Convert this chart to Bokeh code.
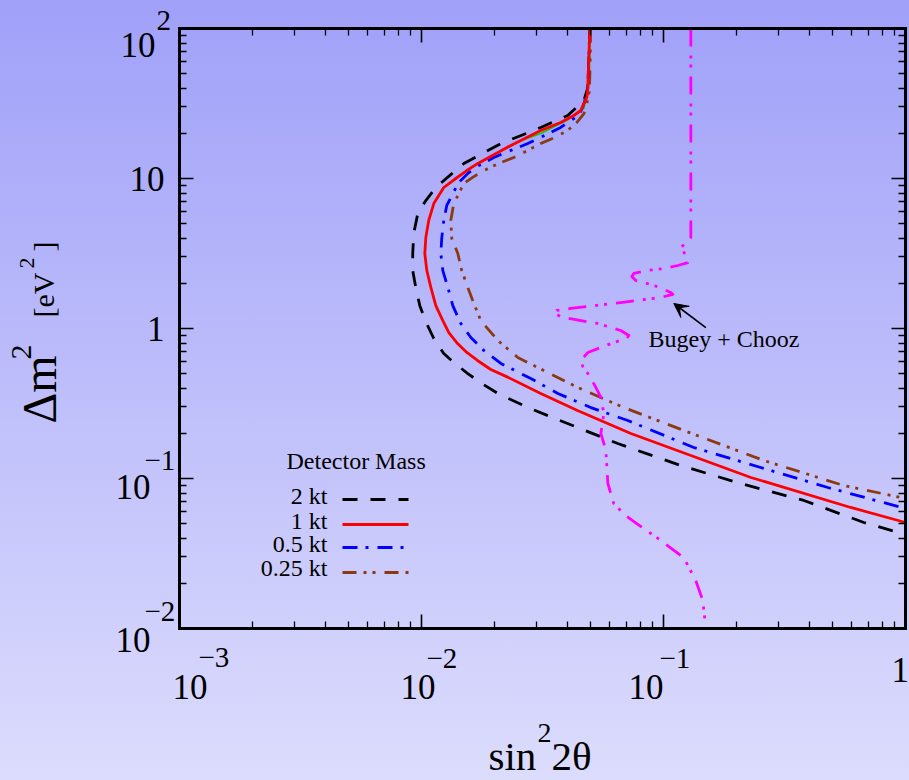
import math
from bokeh.plotting import figure
from bokeh.models import (Range1d, LogAxis, FixedTicker, Label, Arrow, VeeHead,
                          CustomJSTickFormatter)
from bokeh.embed import file_html
from bokeh.resources import INLINE

# ---------------- data ----------------
# 2 kt (black dashed)
x_2kt = [0.0496, 0.0491, 0.0486, 0.0469, 0.0402, 0.0311, 0.0291, 0.02128, 0.01496, 0.0131,
         0.01146, 0.01042, 0.00965, 0.00929, 0.0092, 0.0092, 0.00947, 0.00984, 0.01042,
         0.01124, 0.01236, 0.01373, 0.01553, 0.01774, 0.02067, 0.0275, 0.0366,
         0.0647, 0.1179, 0.2085, 0.380, 0.673, 1.0]
y_2kt = [100, 61, 40, 33.1, 26.3, 21.9, 20.9, 17.1, 12.6, 10.5,
         8.71, 7.13, 5.84, 4.30, 3.16, 2.43, 1.88, 1.42, 1.11,
         0.858, 0.681, 0.585, 0.501, 0.43, 0.369, 0.297, 0.247,
         0.171, 0.122, 0.0926, 0.0714, 0.0509, 0.0423]

# 1 kt (red solid)
x_1kt = [0.0496, 0.0491, 0.0486, 0.0482, 0.0469, 0.0455, 0.0426, 0.0376, 0.0311, 0.0234,
         0.0171, 0.01539, 0.01386, 0.01236, 0.01124, 0.01071, 0.01042, 0.01032, 0.01052,
         0.01093, 0.01146, 0.01225, 0.01297, 0.01409, 0.01539, 0.01703, 0.01934,
         0.0227, 0.0311, 0.0441, 0.0733, 0.2297, 0.594, 1.0]
y_1kt = [100, 61, 38.6, 34.7, 31.6, 28.4, 26.3, 23.6, 20.9, 16.6,
         12.6, 11.3, 10.0, 8.71, 6.81, 5.25, 4.04, 3.16, 2.43,
         1.88, 1.42, 1.13, 0.94, 0.794, 0.692, 0.612, 0.533,
         0.474, 0.369, 0.284, 0.1995, 0.1016, 0.0641, 0.0509]

# 0.5 kt (blue dash-dot)
x_05kt = [0.0496, 0.0491, 0.0486, 0.0469, 0.0455, 0.0426, 0.0376, 0.0275, 0.0234, 0.0199,
          0.01725, 0.01553, 0.01426, 0.01347, 0.01272, 0.01236, 0.01213, 0.01202, 0.01225,
          0.01285, 0.01347, 0.01454, 0.01599, 0.01809, 0.02128, 0.0283, 0.0366,
          0.0501, 0.0712, 0.1334, 0.252, 0.4775, 1.0]
y_05kt = [100, 61, 38.6, 31.6, 28.0, 25.1, 21.9, 17.1, 15.4, 13.8,
          12.2, 10.8, 9.4, 7.94, 6.61, 5.25, 4.04, 3.16, 2.43,
          1.88, 1.42, 1.08, 0.871, 0.714, 0.585, 0.464, 0.369,
          0.297, 0.2435, 0.161, 0.1184, 0.0871, 0.0631]

# 0.25 kt (brown dash-dot-dot)
x_025kt = [0.0500, 0.0498, 0.0494, 0.0486, 0.0482, 0.0469, 0.0438, 0.0402, 0.0356, 0.0311,
           0.0275, 0.02406, 0.02087, 0.01809, 0.01645, 0.01496, 0.0136, 0.01321, 0.01334,
           0.01413, 0.01467, 0.01553, 0.01645, 0.01758, 0.02067, 0.025, 0.032, 0.0443,
           0.0686, 0.1213, 0.2597, 0.556, 1.0]
y_025kt = [100, 61, 38, 34.7, 30.7, 27.1, 23.6, 20.9, 18.8, 17.1,
           15.4, 13.8, 12.6, 11.3, 10.3, 9.26, 6.81, 5.25, 3.98,
           3.16, 2.43, 1.88, 1.47, 1.13, 0.832, 0.641, 0.525, 0.404,
           0.297, 0.209, 0.1318, 0.0898, 0.0736]

# extra thin green curve (mostly hidden under the others)
x_green = [0.0498, 0.0494, 0.0469, 0.0400, 0.0311, 0.0260]
y_green = [100, 45, 29.3, 24.5, 19.95, 18.0]

# Bugey + Chooz limit (magenta)
x_bc = [0.1297, 0.1297, 0.1248, 0.1179, 0.1237, 0.126, 0.1146, 0.1003, 0.0845, 0.0754,
        0.0740, 0.0768, 0.0912, 0.1072, 0.1093, 0.0975, 0.0666, 0.0414, 0.0362, 0.0356,
        0.0376, 0.0402, 0.0535, 0.0666, 0.0719, 0.0705, 0.0623, 0.0487, 0.0455, 0.0464,
        0.0487, 0.0520, 0.0551, 0.0567, 0.0551, 0.0578, 0.0583, 0.0589, 0.0623, 0.0696,
        0.0775, 0.0975, 0.1213, 0.1359, 0.1453, 0.1496]
y_bc = [100, 4.04, 3.74, 3.47, 3.07, 2.75, 2.63, 2.51, 2.43, 2.33,
        2.22, 2.09, 1.94, 1.74, 1.69, 1.61, 1.49, 1.36, 1.32, 1.26,
        1.20, 1.17, 1.08, 0.97, 0.898, 0.858, 0.807, 0.692, 0.612, 0.558,
        0.501, 0.417, 0.347, 0.271, 0.1995, 0.154, 0.122, 0.0926, 0.0681, 0.0567,
        0.0501, 0.0386, 0.0297, 0.0209, 0.0154, 0.01]

# annotation arrow (tail -> head)
arrow_x = [0.1496, 0.1103]
arrow_y = [1.015, 1.468]

x_ticks = [1e-3, 1e-2, 1e-1, 1.0]
y_ticks = [1e-2, 1e-1, 1.0, 10.0, 100.0]
legend_labels = ["2 kt", "1 kt", "0.5 kt", "0.25 kt"]

# ---------------- layout / style ----------------
W, H = 909, 780
FL, FR, FT, FB = 179, 905, 28, 628     # plot box edges in pixels
BOX_X = (x_ticks[0], x_ticks[-1])
BOX_Y = (y_ticks[0], y_ticks[-1])
DX = (FR - FL) / (math.log10(BOX_X[1]) - math.log10(BOX_X[0]))   # px per decade
DY = (FB - FT) / (math.log10(BOX_Y[1]) - math.log10(BOX_Y[0]))
x_range = Range1d(10 ** (math.log10(BOX_X[0]) - FL / DX), 10 ** (math.log10(BOX_X[1]) + (W - FR) / DX))
y_range = Range1d(10 ** (math.log10(BOX_Y[0]) - (H - FB) / DY), 10 ** (math.log10(BOX_Y[1]) + FT / DY))
FONT = "Liberation Serif"
BL = 0.40   # empirical baseline correction (fraction of font size)

p = figure(width=W, height=H, x_axis_type="log", y_axis_type="log",
           x_range=x_range, y_range=y_range,
           output_backend="svg", toolbar_location=None,
           min_border=0, min_border_left=0, min_border_right=0,
           min_border_top=0, min_border_bottom=0,
           background_fill_color=None, border_fill_color=None,
           outline_line_color=None)
p.styles = {"background": "linear-gradient(180deg, #a0a0f9 0%, #dcdcfd 100%)"}
p.grid.visible = False

def minor_for(ticks):
    out = []
    for t in ticks[:-1]:
        out += [m * t for m in range(2, 10)]
    return out

p.add_layout(LogAxis(), "above")
p.add_layout(LogAxis(), "right")
p.below[0].fixed_location = BOX_Y[0]
p.above[0].fixed_location = BOX_Y[1]
p.left[0].fixed_location = BOX_X[0]
p.right[0].fixed_location = BOX_X[1]
for ax in p.xaxis:
    ax.ticker = FixedTicker(ticks=x_ticks, minor_ticks=minor_for(x_ticks))
    ax.bounds = BOX_X
for ax in p.yaxis:
    ax.ticker = FixedTicker(ticks=y_ticks, minor_ticks=minor_for(y_ticks))
    ax.bounds = BOX_Y
for ax in list(p.xaxis) + list(p.yaxis):
    ax.formatter = CustomJSTickFormatter(code="return ''")
    ax.major_label_text_font_size = "0px"
    ax.major_label_standoff = 0
    ax.axis_label_standoff = 0
    ax.axis_line_color = "black"
    ax.axis_line_width = 3
    ax.axis_line_cap = "square"
    ax.major_tick_in = 14
    ax.major_tick_out = 0
    ax.minor_tick_in = 7
    ax.minor_tick_out = 0
    ax.major_tick_line_color = "black"
    ax.minor_tick_line_color = "black"
    ax.major_tick_line_width = 1.6
    ax.minor_tick_line_width = 1.3

# ---------------- curves ----------------
common = dict(line_join="round")
p.line(x_green, y_green, line_color="#00d000", line_width=1.5, **common)
p.line(x_2kt, y_2kt, line_color="black", line_width=2.8, line_dash="15 13", **common)
p.line(x_025kt, y_025kt, line_color="#8b3a0f", line_width=2.8, line_dash="14 7 3 6 3 9", **common)
p.line(x_05kt, y_05kt, line_color="#0000ff", line_width=2.8, line_dash="15 8 3 9", **common)
p.line(x_1kt, y_1kt, line_color="#ff0000", line_width=2.8, **common)
p.line(x_bc, y_bc, line_color="#ff00ff", line_width=2.8, line_dash="18 9 3 6 3 9", **common)

p.add_layout(Arrow(end=VeeHead(size=14, fill_color="black", line_color="black"),
                   x_start=arrow_x[0], y_start=arrow_y[0], x_end=arrow_x[1], y_end=arrow_y[1],
                   line_color="black", line_width=1.6))

# ---------------- texts ----------------
def label(x, y, dx, dy, text, size, align="left", angle=0.0):
    if angle == 0.0:
        dy += BL * size
    else:
        dx -= BL * size
    p.add_layout(Label(x=x, y=y, x_offset=dx, y_offset=dy, text=text,
                       text_font=FONT, text_font_size=f"{size}px", text_color="black",
                       text_align=align, text_baseline="alphabetic", angle=angle))

def px_label(px, py, text, size, align="left", angle=0.0):
    label(BOX_X[0], BOX_Y[0], px - FL, FB - py, text, size, align, angle)

def px_to_data(px, py):
    return (10 ** (math.log10(BOX_X[0]) + (px - FL) / DX),
            10 ** (math.log10(BOX_Y[0]) + (FB - py) / DY))

BASE, SUP = 35, 29
# y tick labels: (value, base, base_dx, base_dy, sup, sup_dx, sup_dy)
y_lab = [(y_ticks[4], "10", -24, -30, "2", -23, -4),
         (y_ticks[3], "10", -15, -14, None, 0, 0),
         (y_ticks[2], "1", -15, -14, None, 0, 0),
         (y_ticks[1], "10", -29, -22, "\u22121", -35, 6),
         (y_ticks[0], "10", -29, -25, "\u22122", -35, 5)]
for v, b, bdx, bdy, s, sdx, sdy in y_lab:
    label(BOX_X[0], v, bdx, bdy, b, BASE, align="right")
    if s:
        label(BOX_X[0], v, sdx, sdy, s, SUP, align="left")

# x tick labels
x_lab = [(x_ticks[0], "10", -7, -72, "\u22123", 19, -41),
         (x_ticks[1], "10", -21, -72, "\u22122", 5, -42),
         (x_ticks[2], "10", -35, -72, "\u22121", -4, -42),
         (x_ticks[3], "1", -14, -55, None, 0, 0)]
for v, b, bdx, bdy, s, sdx, sdy in x_lab:
    label(v, BOX_Y[0], bdx, bdy, b, BASE, align="left")
    if s:
        label(v, BOX_Y[0], sdx, sdy, s, SUP, align="left")

# axis titles
px_label(488, 772, "sin", 41)
px_label(537, 744, "2", 28)
px_label(551, 772, "2\u03b8", 41)

ROT = math.pi / 2
px_label(58, 423, "\u0394m", 48, angle=ROT)
px_label(33, 359, "2", 30, angle=ROT)
px_label(55, 317, "[eV", 30, angle=ROT)
px_label(35, 268, "2", 22, angle=ROT)
px_label(55, 251, "]", 30, angle=ROT)

# annotation
px_label(648, 348, "Bugey + Chooz", 24)

# legend (drawn by hand: labels left, samples right)
px_label(286, 470, "Detector Mass", 24)
leg_styles = [dict(line_color="black", line_dash="15 13"),
              dict(line_color="#ff0000"),
              dict(line_color="#0000ff", line_dash="15 8 3 9"),
              dict(line_color="#8b3a0f", line_dash="14 7 3 6 3 9")]
leg_text_y = [505, 530, 553, 577]
leg_line_y = [499, 524, 547, 572]
for name, st, ty, ly in zip(legend_labels, leg_styles, leg_text_y, leg_line_y):
    px_label(327, ty, name, 24, align="right")
    xa, ya = px_to_data(342, ly)
    xb, yb = px_to_data(408, ly)
    p.line([xa, xb], [ya, yb], line_width=2.8, **st)

open("out.html", "w").write(file_html(p, INLINE))
